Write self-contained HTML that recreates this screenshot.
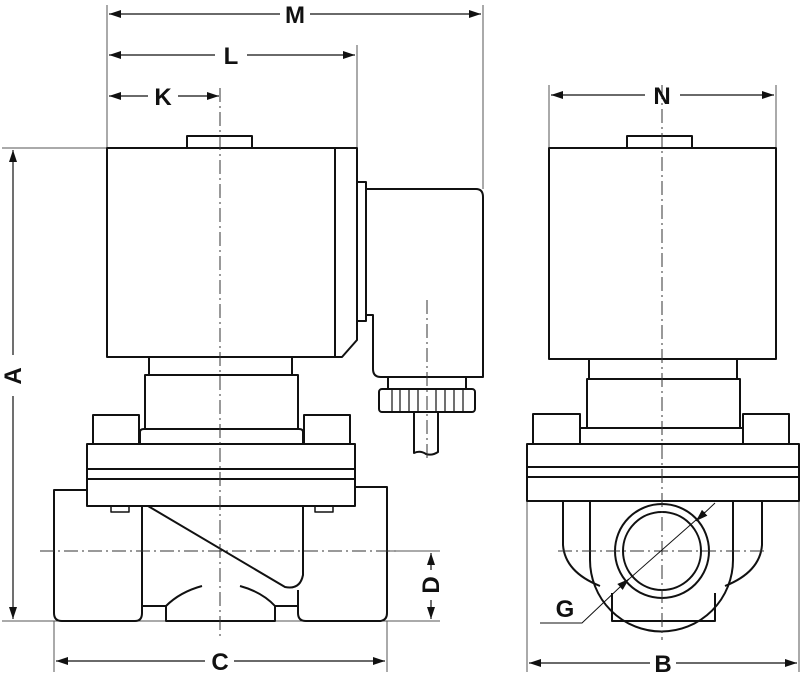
<!DOCTYPE html>
<html><head><meta charset="utf-8"><style>
html,body{margin:0;padding:0;background:#fff;}
svg{display:block}
text{font-family:"Liberation Sans Narrow","Liberation Sans",sans-serif;font-weight:bold;font-size:24px;fill:#111;}
</style></head><body>
<svg width="800" height="679" viewBox="0 0 800 679" xmlns="http://www.w3.org/2000/svg">
<defs>
<marker id="ar" viewBox="0 0 12 8" refX="12" refY="4" markerWidth="12" markerHeight="8" markerUnits="userSpaceOnUse" orient="auto-start-reverse"><path d="M0,0 L12,4 L0,8 z" fill="#111"/></marker>
</defs>
<g fill="none" stroke="#555" stroke-width="1">
<!-- extension lines -->
<line x1="107" y1="5" x2="107" y2="148"/>
<line x1="357" y1="45" x2="357" y2="148"/>
<line x1="483" y1="5" x2="483" y2="189"/>
<line x1="2" y1="148" x2="107" y2="148"/>
<line x1="2" y1="621" x2="440" y2="621"/>
<line x1="54" y1="621" x2="54" y2="672"/>
<line x1="387" y1="621" x2="387" y2="672"/>
<line x1="387" y1="551" x2="440" y2="551"/>
<line x1="549" y1="85" x2="549" y2="148"/>
<line x1="776" y1="85" x2="776" y2="148"/>
<line x1="527" y1="501" x2="527" y2="672"/>
<line x1="799" y1="501" x2="799" y2="672"/>
</g>
<g stroke="#111" stroke-width="1.2" fill="none">
<line x1="109" y1="14" x2="280" y2="14" marker-start="url(#ar)"/>
<line x1="310" y1="14" x2="481" y2="14" marker-end="url(#ar)"/>
<line x1="109" y1="55" x2="215" y2="55" marker-start="url(#ar)"/>
<line x1="247" y1="55" x2="355" y2="55" marker-end="url(#ar)"/>
<line x1="109" y1="96" x2="148" y2="96" marker-start="url(#ar)"/>
<line x1="178" y1="96" x2="219" y2="96" marker-end="url(#ar)"/>
<line x1="551" y1="95" x2="645" y2="95" marker-start="url(#ar)"/>
<line x1="680" y1="95" x2="774" y2="95" marker-end="url(#ar)"/>
<line x1="13" y1="150" x2="13" y2="355" marker-start="url(#ar)"/>
<line x1="13" y1="396" x2="13" y2="619" marker-end="url(#ar)"/>
<line x1="56" y1="661" x2="205" y2="661" marker-start="url(#ar)"/>
<line x1="234" y1="661" x2="385" y2="661" marker-end="url(#ar)"/>
<line x1="529" y1="663" x2="650" y2="663" marker-start="url(#ar)"/>
<line x1="676" y1="663" x2="797" y2="663" marker-end="url(#ar)"/>
<line x1="431" y1="553" x2="431" y2="570" marker-start="url(#ar)"/>
<line x1="431" y1="600" x2="431" y2="619" marker-end="url(#ar)"/>
<polyline points="540,623 582,623 620,587" stroke-width="1"/>
<line x1="620" y1="587" x2="629" y2="579" marker-end="url(#ar)"/>
<line x1="715" y1="503" x2="696" y2="521" stroke-width="1" marker-end="url(#ar)"/>
</g>
<g stroke="#111" stroke-width="2" fill="none" stroke-linejoin="round">
<!-- LEFT VIEW -->
<rect x="187" y="136" width="65" height="12"/>
<path d="M107,148 H357 V340 L342,357 H107 Z"/>
<line x1="335" y1="148" x2="335" y2="357"/>
<rect x="357" y="182" width="9" height="139"/>
<path d="M366,189 H476 Q483,189 483,197 V377 H381 Q373,377 373,369 V315 H366"/>
<line x1="388" y1="377" x2="388" y2="389"/>
<line x1="466" y1="377" x2="466" y2="389"/>
<rect x="379" y="389" width="96" height="23" rx="3"/>
<g stroke-width="1.2"><line x1="392" y1="389" x2="392" y2="412"/><line x1="400" y1="389" x2="400" y2="412"/><line x1="409" y1="389" x2="409" y2="412"/><line x1="418" y1="389" x2="418" y2="412"/><line x1="436" y1="389" x2="436" y2="412"/><line x1="445" y1="389" x2="445" y2="412"/><line x1="454" y1="389" x2="454" y2="412"/><line x1="463" y1="389" x2="463" y2="412"/></g>
<path d="M414,412 V453 Q420,450 426,454 Q432,456 438,452 V412"/>
<rect x="149" y="357" width="143" height="18"/>
<rect x="145" y="375" width="153" height="54"/>
<path d="M140,444 V432 Q140,429 144,429 H299 Q303,429 303,432 V444"/>
<rect x="93" y="415" width="46" height="29"/>
<rect x="304" y="415" width="46" height="29"/>
<rect x="87" y="444" width="268" height="62"/>
<line x1="87" y1="469" x2="355" y2="469"/>
<line x1="87" y1="479" x2="355" y2="479"/>
<path d="M87,490 H54 V613 Q54,621 62,621 H135 Q142,621 142,613 V506"/>
<path d="M355,487 H387 V613 Q387,621 379,621 H306 Q298,621 298,613 V606 H275 V621 H166 V606 H143"/>
<path d="M303,506 V575 Q300,590 285,587 L148,506"/>
<path d="M166,606 Q180,592 202,586"/>
<path d="M275,606 Q262,592 240,586"/>
<line x1="298" y1="606" x2="298" y2="590"/>
<rect x="111" y="506" width="18" height="6" stroke-width="1.5"/>
<rect x="315" y="506" width="18" height="6" stroke-width="1.5"/>
<!-- RIGHT VIEW -->
<rect x="627" y="136" width="65" height="12"/>
<rect x="549" y="148" width="227" height="211"/>
<rect x="589" y="359" width="148" height="20"/>
<rect x="587" y="379" width="153" height="49"/>
<rect x="580" y="428" width="163" height="16"/>
<rect x="533" y="414" width="47" height="30"/>
<rect x="743" y="414" width="46" height="30"/>
<rect x="527" y="444" width="272" height="57"/>
<line x1="527" y1="467" x2="799" y2="467"/>
<line x1="527" y1="477" x2="799" y2="477"/>
<path d="M563,501 V545 Q565,572 600,586"/>
<path d="M762,501 V545 Q760,572 725,586"/>
<line x1="590" y1="501" x2="590" y2="560"/>
<line x1="733" y1="501" x2="733" y2="560"/>
<path d="M590,560 A70,70 0 0 0 733,560"/>
<rect x="612" y="597" width="103" height="24" stroke="none"/>
<path d="M612,593 V621 H715 V593"/>
<circle cx="662" cy="551" r="47"/>
<circle cx="662" cy="551" r="39"/>
</g>
<!-- centerlines -->
<g stroke="#333" stroke-width="1" stroke-dasharray="14,4,2,4" fill="none">
<line x1="220" y1="88" x2="220" y2="640"/>
<line x1="427" y1="300" x2="427" y2="460"/>
<line x1="40" y1="551" x2="400" y2="551"/>
<line x1="662" y1="85" x2="662" y2="640"/>
<line x1="558" y1="551" x2="768" y2="551"/>
</g>
<line x1="620" y1="587" x2="705" y2="512" stroke="#111" stroke-width="1"/>
<text x="295" y="23" text-anchor="middle">M</text>
<text x="231" y="64" text-anchor="middle">L</text>
<text x="163" y="105" text-anchor="middle">K</text>
<text x="662" y="104" text-anchor="middle">N</text>
<text x="220" y="670" text-anchor="middle">C</text>
<text x="663" y="672" text-anchor="middle">B</text>
<text x="565" y="617" text-anchor="middle">G</text>
<text transform="translate(21,376) rotate(-90)" text-anchor="middle">A</text>
<text transform="translate(439,585) rotate(-90)" text-anchor="middle">D</text>
</svg>
</body></html>
